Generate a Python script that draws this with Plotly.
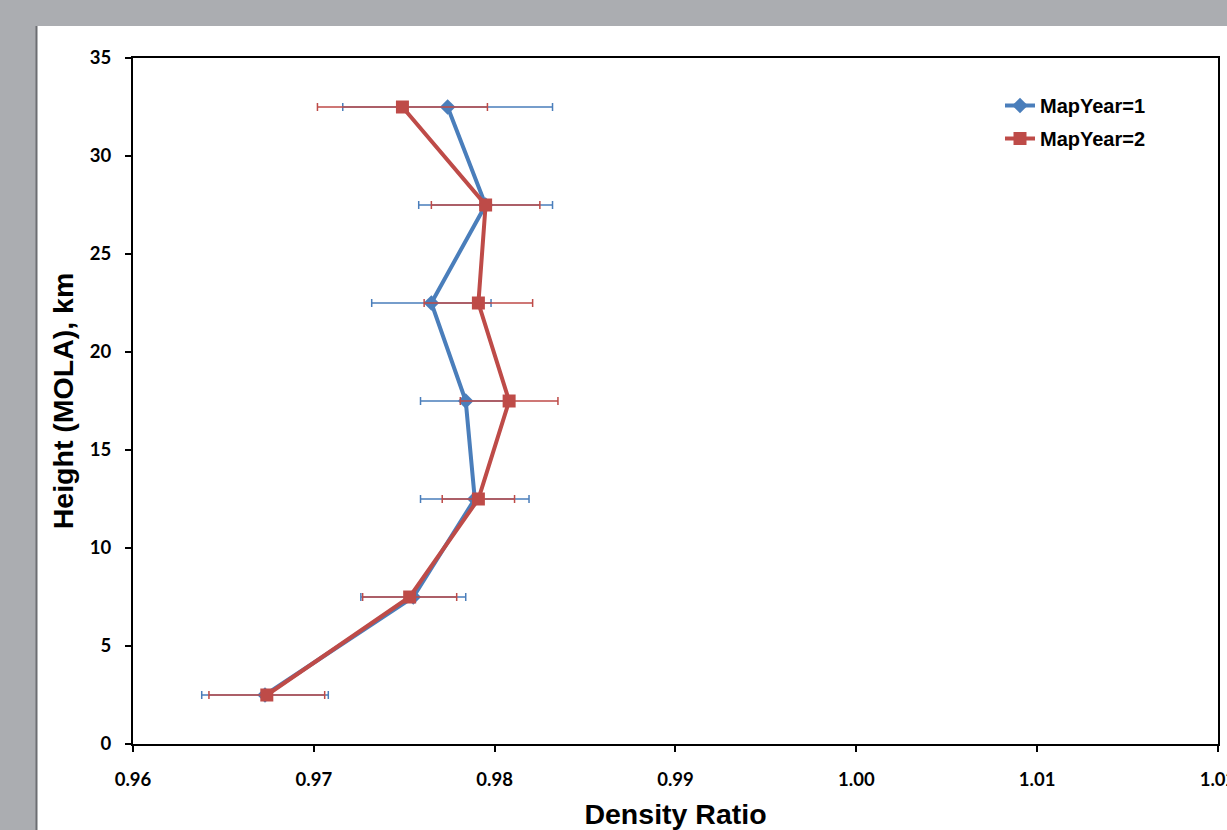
import plotly.graph_objects as go

heights = [2.5, 7.5, 12.5, 17.5, 22.5, 27.5, 32.5]
ratio_y1 = [0.9673, 0.9755, 0.9789, 0.9784, 0.9765, 0.9795, 0.9774]
err_y1 = [0.0035, 0.0029, 0.0030, 0.0025, 0.0033, 0.0037, 0.0058]
ratio_y2 = [0.9674, 0.9753, 0.9791, 0.9808, 0.9791, 0.9795, 0.9749]
err_y2 = [0.0032, 0.0026, 0.0020, 0.0027, 0.0030, 0.0030, 0.0047]
series_names = ["MapYear=1", "MapYear=2"]

x_ticks = [0.96, 0.97, 0.98, 0.99, 1.00, 1.01, 1.02]
y_ticks = [0, 5, 10, 15, 20, 25, 30, 35]

BLUE = "#4A7EBB"
RED = "#BE4B48"
GRAY = "#abadb1"

fig = go.Figure()
fig.add_trace(go.Scatter(
    x=ratio_y1, y=heights, name=series_names[0], mode="lines+markers", legendgroup="a",
    line=dict(color=BLUE, width=4),
    marker=dict(symbol="diamond", size=12, color=BLUE),
    error_x=dict(type="data", array=err_y1, visible=True, color=BLUE, thickness=1.5, width=4),
))
fig.add_trace(go.Scatter(
    x=ratio_y2, y=heights, name=series_names[1], mode="lines+markers", legendgroup="b",
    line=dict(color=RED, width=4),
    marker=dict(symbol="square", size=13, color=RED),
    error_x=dict(type="data", array=err_y2, visible=True, color=RED, thickness=1.5, width=4),
))

L, R, T, B = 133, 9, 58, 86
W, H = 1227, 830
pw, ph = W - L - R, H - T - B

def px_x(p):
    return (p - L) / pw

def px_y(p):
    return (H - B - p) / ph

tickfont = dict(family="Lato, Open Sans, sans-serif", size=18.5, color="black", weight="bold")
titlefont = dict(family="Liberation Sans, Arial, sans-serif", size=28.5, color="black", weight="bold")

fig.update_layout(
    width=W, height=H,
    margin=dict(l=L, r=R, t=T, b=B, autoexpand=False),
    paper_bgcolor=GRAY,
    plot_bgcolor="white",
    showlegend=True,
    legend=dict(
        x=px_x(1000), y=px_y(86), xanchor="left", yanchor="top",
        font=dict(family="Liberation Sans, Arial, sans-serif", size=20, color="black", weight="bold"),
        bgcolor="rgba(0,0,0,0)", tracegroupgap=4, itemwidth=30,
    ),
    shapes=[
        dict(type="rect", xref="paper", yref="paper", layer="below",
             x0=px_x(37), x1=px_x(1240), y0=px_y(850), y1=px_y(26),
             fillcolor="white", line=dict(width=0)),
        dict(type="line", xref="paper", yref="paper", layer="below",
             x0=px_x(36.5), x1=px_x(36.5), y0=px_y(850), y1=px_y(26),
             line=dict(color="#6c6e72", width=2)),
    ],
    xaxis=dict(
        range=[0.96, 1.020001], tickvals=x_ticks, ticktext=[f"{v:.2f}" for v in x_ticks],
        showgrid=False, zeroline=False, showline=True, linecolor="black", linewidth=2,
        mirror=True, ticks="outside", ticklen=6, tickwidth=2, tickcolor="black",
        tickfont=tickfont, ticklabelstandoff=12, ticklabeloverflow="allow",
        title=dict(text="Density Ratio", font=titlefont, standoff=21),
    ),
    yaxis=dict(
        range=[0, 35], tickvals=y_ticks,
        showgrid=False, zeroline=False, showline=True, linecolor="black", linewidth=2,
        mirror=True, ticks="outside", ticklen=6, tickwidth=2, tickcolor="black",
        tickfont=tickfont, ticklabelstandoff=10,
        title=dict(text="Height (MOLA), km", font=titlefont, standoff=8),
    ),
)

fig.write_html(
    "out.html",
    config={"displayModeBar": False},
    post_script="document.body.style.margin='0';document.body.style.background='" + GRAY + "';",
)
